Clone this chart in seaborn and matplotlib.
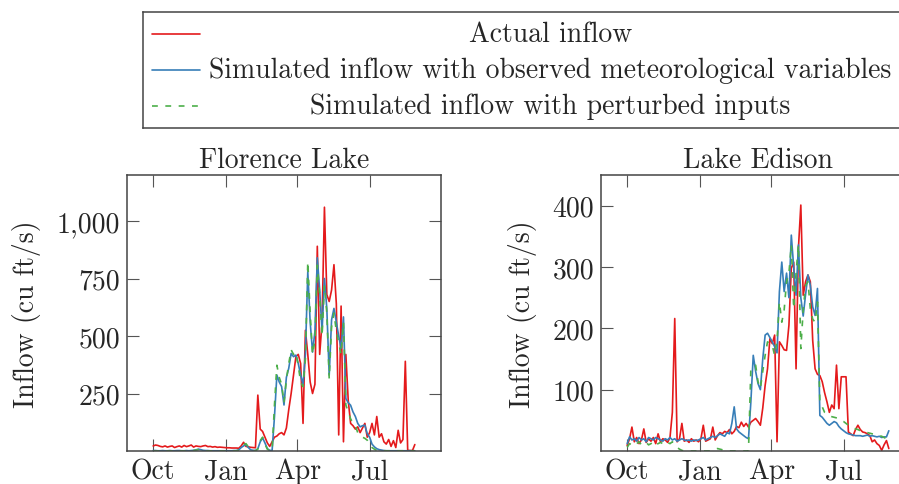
import pandas as pd
import seaborn as sns
import matplotlib.pyplot as plt
import matplotlib.dates as mdates
from matplotlib.ticker import FuncFormatter

# Water year, one sample every 3 days from 1 Oct
start = pd.Timestamp('2014-10-01')
day_offsets = list(range(0, 331, 3))

# Florence Lake (cu ft/s)
florence_actual = [
    22, 26, 24, 20, 18, 22, 17, 20, 22, 15, 19, 22, 17, 24, 19, 22, 26, 17, 22, 20,
    19, 22, 24, 19, 20, 17, 19, 16, 17, 16, 15, 14, 14, 13, 13, 13, 12, 22, 38, 20,
    18, 16, 15, 14, 243, 95, 85, 60, 35, 20, 40, 60, 65, 75, 80, 70, 100, 180, 250, 330,
    410, 420, 380, 120, 525, 420, 300, 250, 290, 890, 420, 560, 1060, 680, 650, 700, 810, 640, 70, 630,
    40, 420, 220, 120, 110, 95, 105, 80, 100, 120, 60, 80, 120, 70, 150, 60, 75, 40, 30, 50,
    20, 45, 15, 90, 35, 50, 390, 3, 2, 2, 28]
florence_simulated = [
    2, 2, 1, 1, 2, 1, 1, 2, 1, 1, 2, 2, 1, 1, 2, 1, 2, 3, 5, 8,
    6, 3, 2, 2, 1, 1, 1, 1, 1, 1, 1, 1, 1, 1, 2, 2, 5, 15, 22, 28,
    15, 5, 3, 2, 10, 40, 57, 35, 10, 3, 2, 150, 330, 300, 280, 200, 320, 360, 424, 410,
    417, 380, 330, 290, 420, 780, 560, 430, 520, 840, 700, 520, 750, 620, 330, 570, 620, 560, 500, 446,
    583, 228, 210, 199, 170, 150, 120, 105, 110, 112, 75, 60, 30, 18, 10, 6, 4, 2, 1, 1,
    1, 1, 1, 1, 1, 1, 1, 1, 1, 1, 1]
florence_perturbed = [
    0, 0, 0, 0, 0, 0, 0, 0, 0, 0, 0, 0, 0, 0, 0, 0, 1, 2, 4, 6,
    4, 2, 1, 0, 0, 0, 0, 0, 0, 0, 0, 0, 0, 0, 0, 1, 4, 18, 28, 32,
    18, 6, 2, 1, 8, 45, 60, 30, 8, 2, 1, 200, 373, 320, 290, 210, 310, 380, 440, 420,
    430, 370, 300, 280, 400, 823, 600, 420, 480, 808, 680, 500, 720, 600, 315, 540, 600, 520, 470, 420,
    560, 200, 170, 140, 120, 110, 80, 65, 60, 55, 47, 30, 15, 8, 3, 1, 1, 1, 1, 1,
    1, 1, 1, 1, 1, 1, 1, 1, 1, 1, 1]

# Lake Edison (cu ft/s)
edison_actual = [
    9, 20, 39, 15, 22, 12, 18, 36, 14, 20, 16, 22, 12, 28, 15, 20, 18, 14, 22, 63,
    216, 15, 20, 45, 16, 18, 14, 20, 16, 18, 15, 20, 42, 16, 18, 20, 39, 18, 25, 30,
    28, 32, 30, 35, 28, 32, 40, 38, 47, 40, 45, 39, 47, 50, 53, 48, 42, 70, 107, 134,
    183, 175, 189, 15, 178, 172, 165, 164, 205, 298, 308, 134, 331, 401, 254, 276, 287, 276, 180, 134,
    125, 123, 113, 95, 80, 63, 75, 69, 140, 69, 121, 121, 121, 31, 28, 25, 35, 42, 35, 31,
    30, 28, 25, 15, 18, 12, 9, 1, 10, 17, 4]
edison_simulated = [
    12, 23, 18, 20, 16, 22, 18, 20, 15, 22, 20, 18, 22, 20, 18, 16, 20, 18, 22, 18,
    20, 16, 18, 20, 18, 17, 18, 16, 18, 17, 18, 20, 22, 18, 20, 22, 24, 22, 25, 28,
    26, 24, 30, 28, 45, 72, 36, 31, 28, 25, 22, 20, 80, 156, 130, 110, 100, 150, 189, 192,
    185, 178, 170, 160, 260, 308, 260, 290, 250, 352, 300, 254, 336, 250, 220, 255, 287, 270, 235, 221,
    265, 58, 55, 50, 45, 42, 45, 48, 46, 40, 36, 33, 30, 28, 27, 26, 25, 25, 25, 24,
    25, 26, 24, 25, 24, 23, 24, 22, 23, 23, 33]
edison_perturbed = [
    6, 12, 10, 14, 12, 15, 10, 12, 14, 10, 12, 15, 10, 12, 14, 12, 10, 14, 12, 15,
    10, 6, 3, 1, 0, 0, 0, 0, 0, 0, 0, 0, 0, 0, 0, 0, 2, 3, 4, 3,
    2, 1, 0, 0, 0, 0, 0, 0, 0, 0, 0, 0, 134, 138, 140, 113, 102, 130, 156, 178,
    175, 172, 156, 180, 243, 210, 230, 276, 290, 336, 232, 290, 336, 167, 230, 270, 276, 232, 215, 210,
    243, 80, 72, 63, 60, 58, 56, 55, 54, 53, 50, 48, 45, 42, 40, 38, 36, 35, 33, 32,
    31, 30, 29, 28, 27, 26, 25, 24, 22, 20, 20]

series_labels = ['Actual inflow',
                 'Simulated inflow with observed meteorological variables',
                 'Simulated inflow with perturbed inputs']
colors = ['#e41a1c', '#377eb8', '#4daf4a']
dashes = ['-', '-', (0, (3.5, 4.5))]

sns.set_theme(style='ticks')
plt.rcParams['font.family'] = ['cmr10', 'DejaVu Serif']
plt.rcParams['mathtext.fontset'] = 'cm'
plt.rcParams['axes.formatter.use_mathtext'] = True
plt.rcParams['font.size'] = 20

dates = start + pd.to_timedelta(day_offsets, unit='D')


def draw_panel(ax, values, title, yticks, ymax):
    for vals, col, ls in zip(values, colors, dashes):
        df = pd.DataFrame({'date': dates, 'inflow': vals})
        sns.lineplot(data=df, x='date', y='inflow', ax=ax, color=col,
                     linewidth=1.2, linestyle=ls, legend=False)
    ax.set_xlim(start - pd.Timedelta(days=33), start + pd.Timedelta(days=363))
    ax.set_ylim(0, ymax)
    ax.set_yticks(yticks)
    ax.yaxis.set_major_formatter(FuncFormatter(lambda v, p: f'{int(v):,}'))
    ax.xaxis.set_major_locator(mdates.MonthLocator(bymonth=[1, 4, 7, 10]))
    ax.xaxis.set_major_formatter(mdates.DateFormatter('%b'))
    ax.tick_params(direction='in', top=True, right=True, length=8.5, width=0.8,
                   color='#555555', labelsize=20, pad=5)
    for sp in ax.spines.values():
        sp.set_color('#444444')
        sp.set_linewidth(1.1)
    ax.set_title(title, fontsize=20, pad=6)
    ax.set_xlabel('')
    ax.set_ylabel('Inflow (cu ft/s)', fontsize=20, labelpad=11)


fig = plt.figure(figsize=(8.99, 4.85), dpi=100)
ax1 = fig.add_axes([127 / 899, 33 / 485, 314 / 899, 276 / 485])
ax2 = fig.add_axes([601 / 899, 33 / 485, 314 / 899, 276 / 485])

draw_panel(ax1, [florence_actual, florence_simulated, florence_perturbed],
           'Florence Lake', [250, 500, 750, 1000], 1200)
draw_panel(ax2, [edison_actual, edison_simulated, edison_perturbed],
           'Lake Edison', [100, 200, 300, 400], 450)

# legend box in the pgfplots style: handle on the left, label centred
lax = fig.add_axes([143 / 899, 356 / 485, 762 / 899, 116 / 485])
lax.set_xlim(0, 1)
lax.set_ylim(0, 1)
lax.set_xticks([])
lax.set_yticks([])
for sp in lax.spines.values():
    sp.set_color('#444444')
    sp.set_linewidth(1.1)
for row, (lab, col, ls) in enumerate(zip(series_labels, colors, dashes)):
    yy = 0.808 - row * 0.308
    lax.plot([0.012, 0.075], [yy, yy], color=col, linewidth=1.2, linestyle=ls)
    lax.text(0.535, yy, lab, ha='center', va='center', fontsize=20)

fig.savefig('out.png', dpi=100)
